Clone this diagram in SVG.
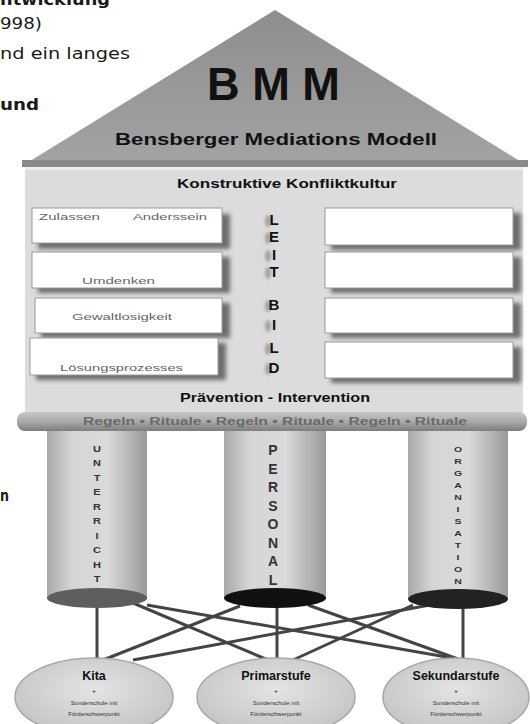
<svg xmlns="http://www.w3.org/2000/svg" width="530" height="724" viewBox="0 0 530 724">
  <defs>
    <style>
      .page { font-family: "DejaVu Sans", "Liberation Sans", sans-serif; font-size: 16px; fill: #1a1a1a; }
      .pb { font-weight: bold; }
      .h { font-family: "Liberation Sans", Arial, sans-serif; font-weight: bold; fill: #111; }
      .small { font-family: "Liberation Sans", Arial, sans-serif; font-size: 9px; fill: #666; }
      .box { fill: #ffffff; stroke: #9a9a9a; stroke-width: 1; }
      .shadow { fill: #6e6e6e; filter: url(#blur); }
      .pillarTxt { font-family: "Liberation Sans", Arial, sans-serif; font-weight: bold; fill: #333; text-anchor: middle; }
      .lb { font-family: "Liberation Sans", Arial, sans-serif; font-weight: bold; font-size: 15px; fill: #111; text-anchor: middle; }
      .lbs { fill: #8a8a8a; filter: url(#blur1); opacity: 0.7; }
      .node { fill: url(#nodeGrad); stroke: #a8a8a8; stroke-width: 1.5; }
      .ntitle { font-family: "Liberation Sans", Arial, sans-serif; font-weight: bold; font-size: 12.5px; fill: #111; text-anchor: middle; }
      .ntiny { font-family: "Liberation Sans", Arial, sans-serif; font-size: 6px; fill: #333; text-anchor: middle; }
      .conn { stroke: #444; stroke-width: 3; fill: none; }
    </style>
    <filter id="blur" x="-20%" y="-20%" width="140%" height="140%">
      <feGaussianBlur stdDeviation="2"/>
    </filter>
    <filter id="blur1" x="-50%" y="-50%" width="200%" height="200%">
      <feGaussianBlur stdDeviation="1.5"/>
    </filter>
    <linearGradient id="roofGrad" x1="0" y1="0" x2="0" y2="1">
      <stop offset="0" stop-color="#8e8e8e"/>
      <stop offset="1" stop-color="#a3a3a3"/>
    </linearGradient>
    <linearGradient id="bandGrad" x1="0" y1="0" x2="0" y2="1">
      <stop offset="0" stop-color="#c8c8c8"/>
      <stop offset="0.5" stop-color="#a9a9a9"/>
      <stop offset="1" stop-color="#7d7d7d"/>
    </linearGradient>
    <linearGradient id="pillarGrad" x1="0" y1="0" x2="1" y2="0">
      <stop offset="0" stop-color="#a8a8a8"/>
      <stop offset="0.25" stop-color="#d6d6d6"/>
      <stop offset="0.6" stop-color="#dadada"/>
      <stop offset="1" stop-color="#9a9a9a"/>
    </linearGradient>
    <radialGradient id="nodeGrad" cx="0.5" cy="0.4" r="0.6">
      <stop offset="0" stop-color="#e4e4e4"/>
      <stop offset="1" stop-color="#c4c4c4"/>
    </radialGradient>
  </defs>

  <rect x="0" y="0" width="530" height="724" fill="#ffffff"/>

  <!-- page text fragments -->
  <g id="page-text">
    <text class="page pb" x="0" y="5" textLength="110" lengthAdjust="spacingAndGlyphs">ntwicklung</text>
    <text class="page" x="0" y="29" textLength="42" lengthAdjust="spacingAndGlyphs">998)</text>
    <text class="page" x="0" y="59" textLength="130" lengthAdjust="spacingAndGlyphs">nd ein langes</text>
    <text class="page pb" x="0" y="110" textLength="39" lengthAdjust="spacingAndGlyphs">und</text>
    <text class="page pb" x="0" y="501" textLength="9" lengthAdjust="spacingAndGlyphs">n</text>
  </g>

  <!-- roof -->
  <g id="roof">
    <polygon points="22,166 275,10 528,166" fill="url(#roofGrad)"/>
    <rect x="22" y="160" width="506" height="7" fill="#8a8a8a"/>
    <text class="h" x="207" y="100" font-size="46" textLength="133" lengthAdjust="spacingAndGlyphs">B M M</text>
    <text class="h" x="115" y="145" font-size="17" fill="#222" textLength="322" lengthAdjust="spacingAndGlyphs">Bensberger Mediations Modell</text>
  </g>

  <!-- body -->
  <g id="body">
    <rect x="25" y="167" width="498" height="246" fill="#dcdcdc"/>
    <rect x="25" y="167" width="498" height="3" fill="#eeeeee"/>
    <text class="h" x="177" y="188" font-size="12.5" fill="#222" textLength="220" lengthAdjust="spacingAndGlyphs">Konstruktive Konfliktkultur</text>
    <text class="h" x="180" y="402" font-size="12.5" fill="#222" textLength="190" lengthAdjust="spacingAndGlyphs">Prävention - Intervention</text>
  </g>

  <!-- left boxes -->
  <g id="box-l1">
    <rect class="shadow" x="38" y="214" width="192" height="35"/>
    <rect class="box" x="32" y="208" width="190" height="35"/>
    <text class="small" x="39" y="220" textLength="61" lengthAdjust="spacingAndGlyphs">Zulassen</text>
    <text class="small" x="133" y="220" textLength="74" lengthAdjust="spacingAndGlyphs">Anderssein</text>
  </g>
  <g id="box-l2">
    <rect class="shadow" x="38" y="257" width="192" height="36"/>
    <rect class="box" x="32" y="252" width="190" height="36"/>
    <text class="small" x="82" y="284" textLength="73" lengthAdjust="spacingAndGlyphs">Umdenken</text>
  </g>
  <g id="box-l3">
    <rect class="shadow" x="41" y="303" width="189" height="35"/>
    <rect class="box" x="35" y="298" width="187" height="35"/>
    <text class="small" x="72" y="320" textLength="100" lengthAdjust="spacingAndGlyphs">Gewaltlosigkeit</text>
  </g>
  <g id="box-l4">
    <rect class="shadow" x="36" y="343" width="190" height="37"/>
    <rect class="box" x="30" y="338" width="188" height="37"/>
    <text class="small" x="60" y="371" textLength="123" lengthAdjust="spacingAndGlyphs">Lösungsprozesses</text>
  </g>

  <!-- right boxes -->
  <g id="box-r1">
    <rect class="shadow" x="331" y="213" width="190" height="37"/>
    <rect class="box" x="325" y="208" width="188" height="37"/>
  </g>
  <g id="box-r2">
    <rect class="shadow" x="331" y="257" width="190" height="36"/>
    <rect class="box" x="325" y="252" width="188" height="36"/>
  </g>
  <g id="box-r3">
    <rect class="shadow" x="331" y="303" width="190" height="35"/>
    <rect class="box" x="325" y="298" width="188" height="35"/>
  </g>
  <g id="box-r4">
    <rect class="shadow" x="331" y="347" width="190" height="36"/>
    <rect class="box" x="325" y="342" width="188" height="36"/>
  </g>

  <!-- Leitbild -->
  <g id="leitbild">
    <g class="lbs">
      <ellipse cx="268" cy="221" rx="3" ry="6"/>
      <ellipse cx="268" cy="238" rx="3" ry="6"/>
      <ellipse cx="268" cy="256" rx="3" ry="6"/>
      <ellipse cx="268" cy="273" rx="3" ry="6"/>
      <ellipse cx="268" cy="306" rx="3" ry="6"/>
      <ellipse cx="268" cy="326" rx="3" ry="6"/>
      <ellipse cx="268" cy="349" rx="3" ry="6"/>
      <ellipse cx="268" cy="369" rx="3" ry="6"/>
    </g>
    <text class="lb" x="274" y="225">L</text>
    <text class="lb" x="274" y="242">E</text>
    <text class="lb" x="274" y="260">I</text>
    <text class="lb" x="274" y="277">T</text>
    <text class="lb" x="274" y="310">B</text>
    <text class="lb" x="274" y="330">I</text>
    <text class="lb" x="274" y="353">L</text>
    <text class="lb" x="274" y="373">D</text>
  </g>

  <!-- Regeln band -->
  <g id="band">
    <rect x="17" y="412" width="510" height="19" rx="8" ry="8" fill="url(#bandGrad)"/>
    <text x="83" y="425" font-family="Liberation Sans, Arial, sans-serif" font-size="10.5" font-weight="bold" fill="#6a6a6a" textLength="384" lengthAdjust="spacingAndGlyphs">Regeln • Rituale • Regeln • Rituale • Regeln • Rituale</text>
  </g>

  <!-- connectors -->
  <g id="connectors">
    <line class="conn" x1="97" y1="605" x2="97" y2="659"/>
    <line class="conn" x1="277" y1="606" x2="277" y2="659"/>
    <line class="conn" x1="463" y1="606" x2="463" y2="659"/>
    <line class="conn" x1="133" y1="603" x2="268" y2="660"/>
    <line class="conn" x1="147" y1="605" x2="458" y2="659"/>
    <line class="conn" x1="240" y1="606" x2="103" y2="660"/>
    <line class="conn" x1="308" y1="605" x2="458" y2="659"/>
    <line class="conn" x1="430" y1="605" x2="133" y2="660"/>
    <line class="conn" x1="413" y1="605" x2="293" y2="660"/>
  </g>

  <!-- pillars -->
  <g id="pillar-unterricht">
    <rect x="47" y="431" width="100" height="168" fill="url(#pillarGrad)"/>
    <ellipse cx="97" cy="598" rx="50" ry="10" fill="#5e5e5e"/>
    <g class="pillarTxt" font-size="11">
      <text x="97" y="452" transform="translate(97 452) scale(1 0.75) translate(-97 -452)">U</text>
      <text x="97" y="466.5" transform="translate(97 466.5) scale(1 0.75) translate(-97 -466.5)">N</text>
      <text x="97" y="481" transform="translate(97 481) scale(1 0.75) translate(-97 -481)">T</text>
      <text x="97" y="495.5" transform="translate(97 495.5) scale(1 0.75) translate(-97 -495.5)">E</text>
      <text x="97" y="510" transform="translate(97 510) scale(1 0.75) translate(-97 -510)">R</text>
      <text x="97" y="524.5" transform="translate(97 524.5) scale(1 0.75) translate(-97 -524.5)">R</text>
      <text x="97" y="539" transform="translate(97 539) scale(1 0.75) translate(-97 -539)">I</text>
      <text x="97" y="553.5" transform="translate(97 553.5) scale(1 0.75) translate(-97 -553.5)">C</text>
      <text x="97" y="568" transform="translate(97 568) scale(1 0.75) translate(-97 -568)">H</text>
      <text x="97" y="582.5" transform="translate(97 582.5) scale(1 0.75) translate(-97 -582.5)">T</text>
    </g>
  </g>

  <g id="pillar-personal">
    <rect x="224" y="431" width="102" height="168" fill="url(#pillarGrad)"/>
    <ellipse cx="275" cy="598" rx="51" ry="10" fill="#111111"/>
    <g class="pillarTxt" font-size="14" fill="#111">
      <text x="273" y="455">P</text>
      <text x="273" y="474">E</text>
      <text x="273" y="492">R</text>
      <text x="273" y="511">S</text>
      <text x="273" y="529">O</text>
      <text x="273" y="548">N</text>
      <text x="273" y="566">A</text>
      <text x="273" y="585">L</text>
    </g>
  </g>

  <g id="pillar-organisation">
    <rect x="408" y="431" width="100" height="168" fill="url(#pillarGrad)"/>
    <ellipse cx="458" cy="599" rx="50" ry="10" fill="#222222"/>
    <g class="pillarTxt" font-size="10.5">
      <text x="458" y="452" transform="translate(458 452) scale(1 0.7) translate(-458 -452)">O</text>
      <text x="458" y="464" transform="translate(458 464) scale(1 0.7) translate(-458 -464)">R</text>
      <text x="458" y="476" transform="translate(458 476) scale(1 0.7) translate(-458 -476)">G</text>
      <text x="458" y="488" transform="translate(458 488) scale(1 0.7) translate(-458 -488)">A</text>
      <text x="458" y="500" transform="translate(458 500) scale(1 0.7) translate(-458 -500)">N</text>
      <text x="458" y="512" transform="translate(458 512) scale(1 0.7) translate(-458 -512)">I</text>
      <text x="458" y="524" transform="translate(458 524) scale(1 0.7) translate(-458 -524)">S</text>
      <text x="458" y="536" transform="translate(458 536) scale(1 0.7) translate(-458 -536)">A</text>
      <text x="458" y="548" transform="translate(458 548) scale(1 0.7) translate(-458 -548)">T</text>
      <text x="458" y="560" transform="translate(458 560) scale(1 0.7) translate(-458 -560)">I</text>
      <text x="458" y="572" transform="translate(458 572) scale(1 0.7) translate(-458 -572)">O</text>
      <text x="458" y="584" transform="translate(458 584) scale(1 0.7) translate(-458 -584)">N</text>
    </g>
  </g>

  <!-- bottom nodes -->
  <g id="node-kita">
    <ellipse class="node" cx="94" cy="697" rx="79" ry="39"/>
    <text class="ntitle" x="94" y="680">Kita</text>
    <text class="ntiny" x="94" y="693" font-size="9" font-weight="bold">+</text>
    <text class="ntiny" x="94" y="705">Sonderschule mit</text>
    <text class="ntiny" x="94" y="716">Förderschwerpunkt</text>
  </g>
  <g id="node-primarstufe">
    <ellipse class="node" cx="276" cy="697" rx="79" ry="39"/>
    <text class="ntitle" x="276" y="680">Primarstufe</text>
    <text class="ntiny" x="276" y="693" font-size="9" font-weight="bold">+</text>
    <text class="ntiny" x="276" y="705">Sonderschule mit</text>
    <text class="ntiny" x="276" y="716">Förderschwerpunkt</text>
  </g>
  <g id="node-sekundarstufe">
    <ellipse class="node" cx="456" cy="697" rx="73" ry="39"/>
    <text class="ntitle" x="456" y="680">Sekundarstufe</text>
    <text class="ntiny" x="456" y="693" font-size="9" font-weight="bold">+</text>
    <text class="ntiny" x="456" y="705">Sonderschule mit</text>
    <text class="ntiny" x="456" y="716">Förderschwerpunkt</text>
  </g>
</svg>
